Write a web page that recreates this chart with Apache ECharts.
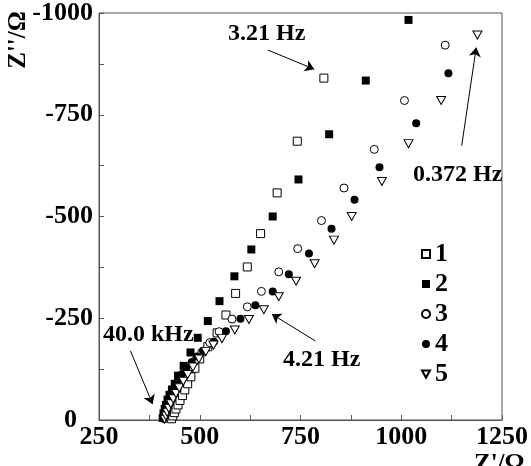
<!DOCTYPE html>
<html>
<head>
<meta charset="utf-8">
<script src="https://cdn.jsdelivr.net/npm/echarts@6/dist/echarts.min.js"></script>
<style>
  html, body { margin: 0; padding: 0; background: #fff; }
  #chart { width: 531px; height: 466px; }
</style>
</head>
<body>
<div id="chart"></div>
<script>
// series names
var names = ['1', '2', '3', '4', '5'];

// Z' (Ohm), Z'' (Ohm)
var s1 = [[430,-3],[433,-10],[437,-18],[441,-27],[446,-37],[451,-48],[457,-60],[463,-74],[470,-89],[478,-106],
  [488,-127],[500,-150],[520,-180],[543,-214],[565,-258],[589,-311],[618,-376],[651,-458],[692,-558],[742,-685],[808,-840]];
var s2 = [[408,-5],[410,-16],[413,-27],[416,-37],[420,-50],[425,-62],[431,-75],[438,-89],[446,-109],[460,-133],
  [477,-166],[495,-202],[520,-243],[549,-292],[586,-353],[628,-419],[681,-500],[745,-591],[821,-702],[912,-834],[1018,-983]];
var s3 = [[412,-3],[414,-12],[417,-22],[421,-33],[426,-45],[432,-58],[440,-73],[449,-89],[460,-106],[473,-125],
  [488,-145],[505,-166],[525,-190],[548,-217],[580,-248],[618,-278],[653,-316],[696,-364],[743,-421],[802,-490],
  [858,-570],[933,-665],[1008,-785],[1109,-921]];
var s4 = [[410,-4],[412,-14],[415,-25],[419,-37],[424,-50],[430,-64],[437,-79],[446,-96],[456,-113],[467,-128],
  [480,-142],[493,-156],[508,-170],[535,-192],[565,-218],[601,-249],[638,-282],[681,-316],[721,-358],[771,-409],
  [827,-470],[884,-541],[946,-621],[1037,-729],[1117,-852]];
var s5 = [[413,-2],[416,-10],[419,-19],[423,-29],[428,-40],[434,-52],[441,-65],[449,-79],[459,-95],[470,-112],
  [483,-130],[498,-150],[515,-168],[534,-184],[555,-200],[587,-221],[622,-247],[659,-271],[696,-303],[739,-341],
  [785,-384],[833,-442],[877,-500],[952,-586],[1018,-679],[1099,-785],[1189,-946]];

// frequency annotations: text and arrow (from, to) in data units
var notes = ['3.21 Hz', '0.372 Hz', '4.21 Hz', '40.0 kHz'];
var arrows = [
  [[669,-909],[784,-862]],
  [[1150,-674],[1186,-915]],
  [[787,-194],[679,-260]],
  [[328,-170],[383,-39]]
];

var serif = '"Liberation Serif", "Times New Roman", serif';
var triDown = 'path://M0,0 L10,0 L5,9 Z';

function sc(name, data, symbol, size, fill) {
  return {
    name: name,
    type: 'scatter',
    data: data,
    symbol: symbol,
    symbolSize: size,
    itemStyle: { color: fill, borderColor: '#000', borderWidth: fill === '#fff' ? 1 : 0, opacity: 1 },
    emphasis: { disabled: true }
  };
}

var chart = echarts.init(document.getElementById('chart'));
var series = [
  sc(names[0], s1, 'rect', 8, '#fff'),
  sc(names[1], s2, 'rect', 8, '#000'),
  sc(names[2], s3, 'circle', 8, '#fff'),
  sc(names[3], s4, 'circle', 8, '#000'),
  sc(names[4], s5, triDown, [9, 8], '#fff')
];
series[0].markLine = {
  silent: true,
  symbol: ['none', 'arrow'],
  symbolSize: 9,
  lineStyle: { color: '#000', width: 1, type: 'solid' },
  label: { show: false },
  data: arrows.map(function (a) { return [{ coord: a[0] }, { coord: a[1] }]; })
};

chart.setOption({
  animation: false,
  grid: { left: 99, top: 13, right: 24, bottom: 46, show: true, borderColor: '#555', borderWidth: 1 },
  xAxis: {
    type: 'value', min: 250, max: 1250, interval: 250,
    axisLine: { lineStyle: { color: '#555' } },
    axisTick: { inside: true, length: 5, lineStyle: { color: '#555' } },
    minorTick: { show: true, splitNumber: 2, length: 5, lineStyle: { color: '#555' } },
    splitLine: { show: false },
    axisLabel: { color: '#000', fontFamily: serif, fontWeight: 'bold', fontSize: 26, margin: 4,
      formatter: function (v) { return String(v); } }
  },
  yAxis: {
    type: 'value', min: -1000, max: 0, interval: 250, inverse: true,
    axisLine: { lineStyle: { color: '#555' } },
    axisTick: { inside: true, length: 5, lineStyle: { color: '#555' } },
    minorTick: { show: true, splitNumber: 2, length: 5, lineStyle: { color: '#555' } },
    splitLine: { show: false },
    axisLabel: {
      color: '#000', fontFamily: serif, fontWeight: 'bold', fontSize: 26, margin: 6,
      formatter: function (v) { return v === 0 ? '{z|0}' : String(v); },
      rich: { z: { fontFamily: serif, fontWeight: 'bold', fontSize: 26, color: '#000', padding: [0, 16, 0, 0] } }
    }
  },
  legend: {
    orient: 'vertical', left: 416, top: 236,
    itemWidth: 8, itemHeight: 8, itemGap: 4,
    data: names,
    textStyle: { color: '#000', fontFamily: serif, fontWeight: 'bold', fontSize: 26, lineHeight: 26 }
  },
  graphic: [
    { type: 'text', x: 228, y: 22, style: { text: notes[0], font: 'bold 24px ' + serif, fill: '#000' } },
    { type: 'text', x: 413, y: 163, style: { text: notes[1], font: 'bold 24px ' + serif, fill: '#000' } },
    { type: 'text', x: 283, y: 348, style: { text: notes[2], font: 'bold 24px ' + serif, fill: '#000' } },
    { type: 'text', x: 103, y: 323, style: { text: notes[3], font: 'bold 24px ' + serif, fill: '#000' } },
    { type: 'text', x: 19, y: 40, rotation: Math.PI / 2,
      style: { text: "Z''/\u03A9", font: 'bold 25px ' + serif, fill: '#000', align: 'center', verticalAlign: 'middle' } },
    { type: 'text', x: 474, y: 452, style: { text: "Z'/\u03A9", font: 'bold 25px ' + serif, fill: '#000' } }
  ],
  series: series
});
</script>
</body>
</html>
